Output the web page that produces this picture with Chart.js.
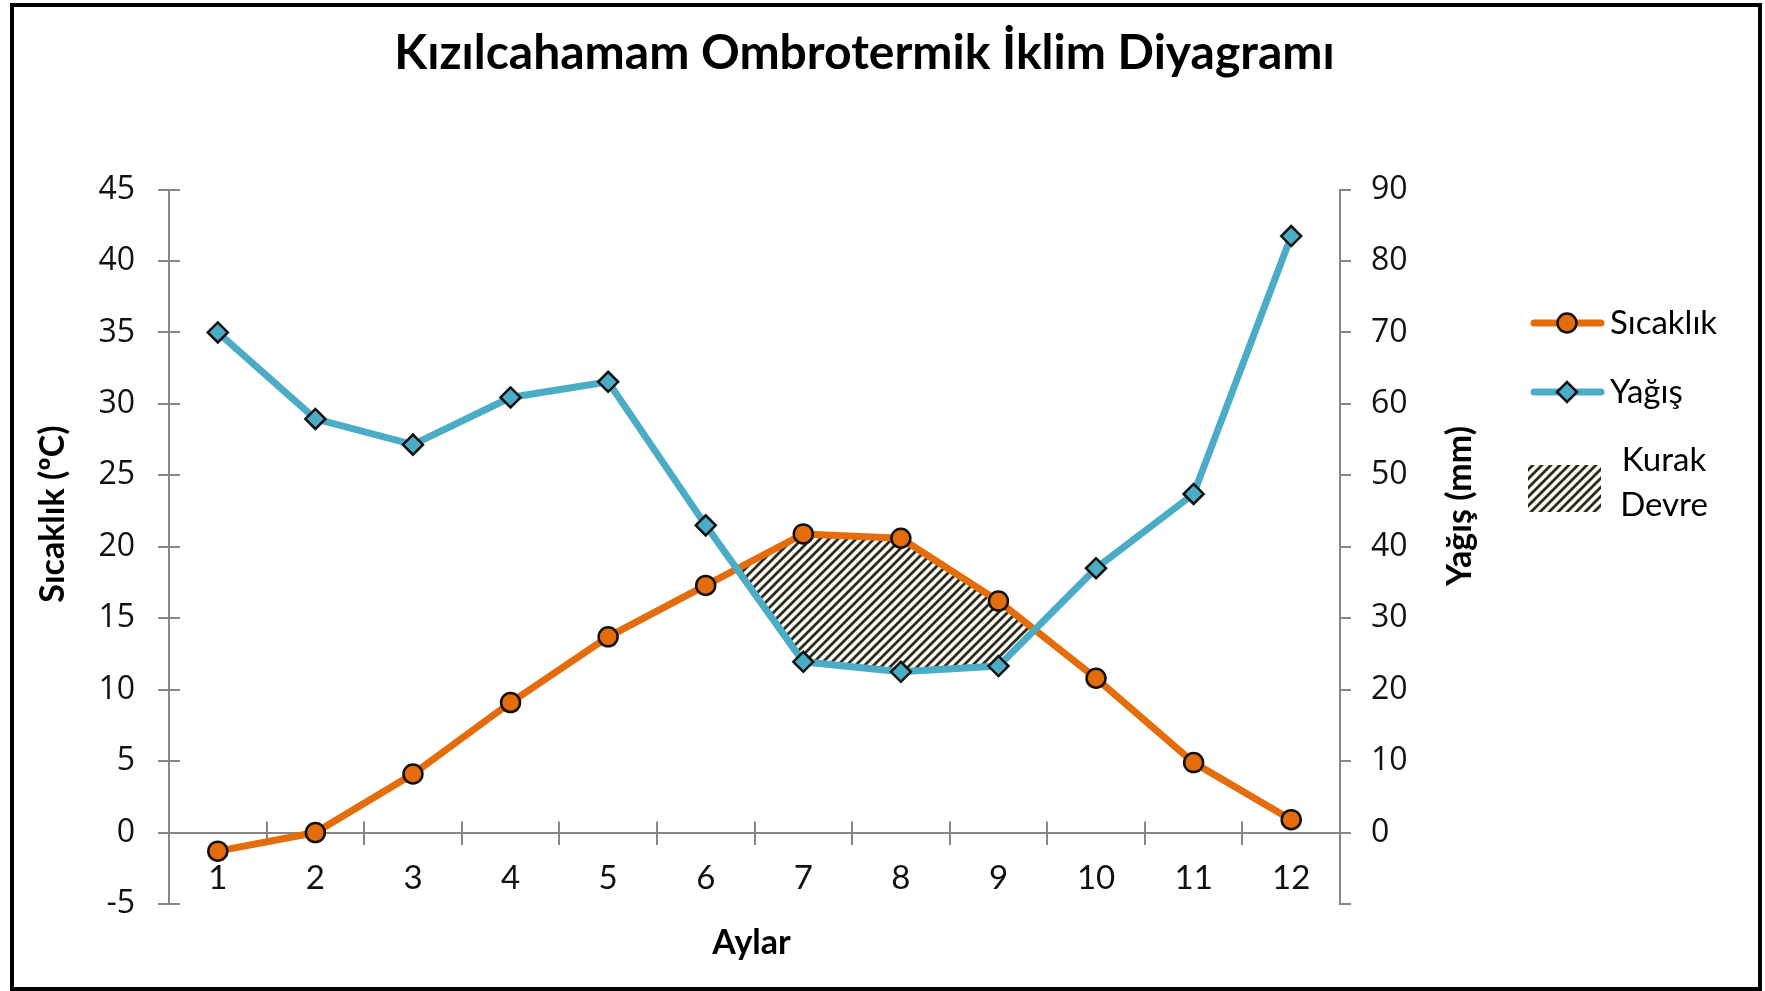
<!DOCTYPE html>
<html lang="tr">
<head>
<meta charset="utf-8">
<title>Kızılcahamam Ombrotermik İklim Diyagramı</title>
<script src="https://cdn.jsdelivr.net/npm/chart.js@4.4.1/dist/chart.umd.min.js"></script>
<style>
  html, body { margin: 0; padding: 0; background: #fff; overflow: hidden; }
  #kutu { width: 1765px; height: 991px; position: relative; }
</style>
</head>
<body>
<div id="kutu"><canvas id="grafik"></canvas></div>
<script>
// veriler
const aylar = ["1", "2", "3", "4", "5", "6", "7", "8", "9", "10", "11", "12"];
const sicaklik = [-1.3, 0, 4.1, 9.1, 13.7, 17.3, 20.9, 20.6, 16.2, 10.8, 4.9, 0.9];
const yagis = [70.0, 57.9, 54.3, 60.9, 63.1, 43.0, 23.9, 22.5, 23.3, 37.0, 47.4, 83.5];
const sicaklikTicks = [-5, 45, 5];   // min, max, adim
const yagisTicks = [-10, 90, 10];

const TURUNCU = "#E46C0A";
const MAVI = "#4BACC6";
const EKSEN = "#868686";

// kurak devre taramasi
const taramaYap = () => {
  const c = document.createElement("canvas");
  c.width = 9;
  c.height = 9;
  const g = c.getContext("2d");
  g.fillStyle = "#fffdf3";
  g.fillRect(0, 0, 9, 9);
  g.strokeStyle = "#2b2b24";
  g.lineWidth = 2.8;
  g.beginPath();
  g.moveTo(-2, 11); g.lineTo(11, -2);
  g.moveTo(-2, 2); g.lineTo(2, -2);
  g.moveTo(7, 11); g.lineTo(11, 7);
  g.stroke();
  return g.createPattern(c, "repeat");
};
const tarama = taramaYap();

// eksen cizgilerinin ic tarafa tasan kisimlari
const capraz = {
  id: "capraz",
  afterDatasetsDraw(chart) {
    const { ctx, scales } = chart;
    const x = scales.x, y = scales.y;
    ctx.save();
    ctx.strokeStyle = EKSEN;
    ctx.lineWidth = 2;
    ctx.beginPath();
    const sifir = y.getPixelForValue(0);
    const w = x.getPixelForTick(1) - x.getPixelForTick(0);
    for (let i = 0; i <= aylar.length; i++) {
      const px = Math.round(x.getPixelForTick(0) - w / 2 + i * w);
      ctx.moveTo(px, sifir);
      ctx.lineTo(px, sifir - 11);
    }
    y.ticks.forEach((t, i) => {
      const py = Math.round(y.getPixelForTick(i));
      ctx.moveTo(y.right, py);
      ctx.lineTo(y.right + 11, py);
    });
    ctx.stroke();
    ctx.restore();
  },
};

// lejant, eksen basliklari ve cerceve
const ekler = {
  id: "ekler",
  afterDraw(chart) {
    const { ctx, chartArea } = chart;
    const ds = chart.data.datasets;
    ctx.save();

    ctx.fillStyle = "#000";
    ctx.font = "bold 34px Lato";
    ctx.textAlign = "center";
    ctx.textBaseline = "middle";
    ctx.fillText("Aylar", (chartArea.left + chartArea.right) / 2 - 3, 943);

    ctx.save();
    ctx.translate(53, 514);
    ctx.rotate(-Math.PI / 2);
    ctx.fillText("Sıcaklık (ºC)", 0, 0);
    ctx.restore();

    ctx.save();
    ctx.translate(1460, 506);
    ctx.rotate(-Math.PI / 2);
    ctx.fillText("Yağış (mm)", 0, 0);
    ctx.restore();

    // seri satirlari
    [[0, 323], [1, 392]].forEach(([i, yy]) => {
      const d = ds[i];
      ctx.strokeStyle = d.borderColor;
      ctx.lineWidth = d.borderWidth;
      ctx.lineCap = "round";
      ctx.beginPath();
      ctx.moveTo(1534, yy);
      ctx.lineTo(1601, yy);
      ctx.stroke();
      ctx.fillStyle = d.pointBackgroundColor;
      ctx.strokeStyle = d.pointBorderColor;
      ctx.lineWidth = d.pointBorderWidth;
      Chart.helpers.drawPoint(ctx, { pointStyle: d.pointStyle, radius: d.pointRadius, borderWidth: d.pointBorderWidth }, 1567, yy);
      ctx.fillStyle = "#000";
      ctx.font = "33px Lato";
      ctx.textAlign = "left";
      ctx.fillText(d.label, 1610, yy);
    });

    ctx.fillStyle = tarama;
    ctx.fillRect(1528, 465, 73, 47);
    ctx.fillStyle = "#000";
    ctx.font = "33px Lato";
    ctx.textAlign = "center";
    ctx.fillText("Kurak", 1664, 460);
    ctx.fillText("Devre", 1664, 505);

    ctx.strokeStyle = "#000";
    ctx.lineWidth = 4;
    ctx.strokeRect(12, 5, 1748, 984);
    ctx.restore();
  },
};

const ctx = document.getElementById("grafik").getContext("2d");
const grafik = new Chart(ctx, {
  type: "line",
  data: {
    labels: aylar,
    datasets: [
      {
        label: "Sıcaklık",
        data: sicaklik,
        yAxisID: "y",
        order: 1,
        borderColor: TURUNCU,
        backgroundColor: TURUNCU,
        borderWidth: 7,
        pointStyle: "circle",
        pointRadius: 9.5,
        pointBackgroundColor: TURUNCU,
        pointBorderColor: "#111",
        pointBorderWidth: 2.5,
        tension: 0,
        fill: { target: 1, above: tarama, below: "rgba(0,0,0,0)" },
      },
      {
        label: "Yağış",
        data: yagis,
        yAxisID: "y1",
        order: 0,
        borderColor: MAVI,
        backgroundColor: MAVI,
        borderWidth: 7,
        pointStyle: "rectRot",
        pointRadius: 10,
        pointBackgroundColor: MAVI,
        pointBorderColor: "#111",
        pointBorderWidth: 2.5,
        tension: 0,
        fill: false,
      },
    ],
  },
  options: {
    responsive: true,
    maintainAspectRatio: false,
    animation: false,
    layout: { padding: { left: 0, right: 36, top: 0, bottom: 87 } },
    plugins: {
      legend: { display: false },
      tooltip: { enabled: false },
      filler: { drawTime: "beforeDatasetsDraw" },
      title: {
        display: true,
        text: "Kızılcahamam Ombrotermik İklim Diyagramı",
        color: "#000",
        font: { family: "Lato", size: 48, weight: "bold" },
        padding: { top: 25, bottom: 107 },
      },
    },
    scales: {
      x: {
        type: "category",
        position: { y: 0 },
        offset: true,
        grid: { drawOnChartArea: false, offset: true, color: EKSEN, lineWidth: 2, tickLength: 11 },
        border: { color: EKSEN, width: 2 },
        ticks: { color: "#111", font: { family: "Lato", size: 33 }, padding: 15 },
      },
      y: {
        position: "left",
        min: sicaklikTicks[0],
        max: sicaklikTicks[1],
        ticks: { stepSize: sicaklikTicks[2], color: "#111", font: { family: "Open Sans", size: 32 }, padding: 23 },
        grid: { drawOnChartArea: false, color: EKSEN, lineWidth: 2, tickLength: 11 },
        border: { color: EKSEN, width: 2 },
        afterFit: (s) => { s.width = 169; },
      },
      y1: {
        position: "right",
        min: yagisTicks[0],
        max: yagisTicks[1],
        ticks: {
          stepSize: yagisTicks[2],
          color: "#111",
          font: { family: "Open Sans", size: 32 },
          padding: 20,
          callback: (v) => (v < 0 ? "" : v),
        },
        grid: { drawOnChartArea: false, color: EKSEN, lineWidth: 2, tickLength: 11 },
        border: { color: EKSEN, width: 2 },
        afterFit: (s) => { s.width = 1765 - 36 - 1340; },
      },
    },
  },
  plugins: [capraz, ekler],
});
</script>
</body>
</html>
